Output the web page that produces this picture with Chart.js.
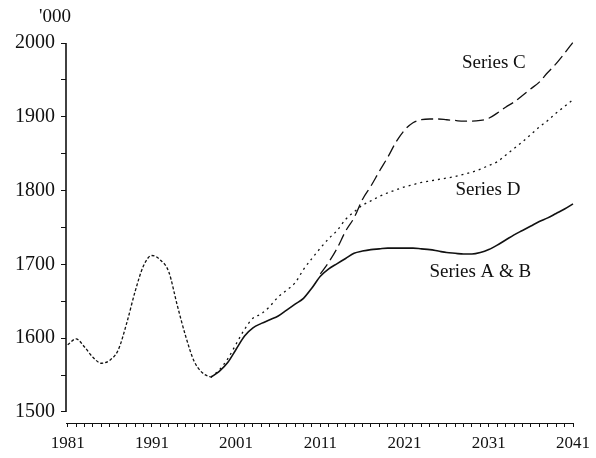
<!DOCTYPE html>
<html>
<head>
<meta charset="utf-8">
<script src="https://cdn.jsdelivr.net/npm/chart.js@4/dist/chart.umd.min.js"></script>
<style>
  html, body { margin: 0; padding: 0; background: #fff; }
  #wrap { width: 596px; height: 458px; }
</style>
</head>
<body>
<div id="wrap"><canvas id="myChart" width="596" height="458"></canvas></div>
<script>
const years = [
  1981, 1982, 1983, 1984, 1985, 1986, 1987, 1988, 1989, 1990,
  1991, 1992, 1993, 1994, 1995, 1996, 1997, 1998, 1999, 2000,
  2001, 2002, 2003, 2004, 2005, 2006, 2007, 2008, 2009, 2010,
  2011, 2012, 2013, 2014, 2015, 2016, 2017, 2018, 2019, 2020,
  2021, 2022, 2023, 2024, 2025, 2026, 2027, 2028, 2029, 2030,
  2031, 2032, 2033, 2034, 2035, 2036, 2037, 2038, 2039, 2040,
  2041,
];

// common history 1981-1998
const history = [
  1591, 1599, 1588, 1574, 1566, 1570, 1584, 1620, 1663, 1698,
  1712, 1706, 1690, 1645, 1603, 1569, 1553, 1547,
];

// projections start in 1998
const seriesAB = [
  1547, 1555, 1567, 1585, 1603, 1614, 1620, 1625, 1630, 1638,
  1646, 1654, 1668, 1684, 1694, 1701, 1708, 1715, 1718, 1720,
  1721, 1722, 1722, 1722, 1722, 1721, 1720, 1718, 1716, 1715,
  1714, 1714, 1716, 1720, 1726, 1733, 1740, 1746, 1752, 1758,
  1763, 1769, 1775, 1782,
];

const seriesD = [
  1547, 1557, 1572, 1592, 1612, 1627, 1633, 1643, 1656, 1665,
  1675, 1693, 1708, 1722, 1735, 1746, 1761, 1771, 1780, 1786,
  1792, 1797, 1801, 1805, 1808, 1811, 1813, 1815, 1817, 1819,
  1822, 1825, 1829, 1834, 1839, 1848, 1857, 1866, 1876, 1886,
  1895, 1905, 1914, 1923,
];

// series C branches off in 2011
const seriesC = [
  1687, 1703, 1722, 1745, 1763, 1788, 1806, 1826, 1845, 1866,
  1882, 1892, 1896, 1897, 1897, 1896, 1895, 1894, 1894, 1895,
  1898, 1905, 1913, 1920, 1929, 1938, 1947, 1960, 1972, 1986,
  2001,
];

const yTickValues = [1500, 1550, 1600, 1650, 1700, 1750, 1800, 1850, 1900, 1950, 2000];

const seriesLabels = [
  { text: "Series C", year: 2031.6, value: 1973 },
  { text: "Series D", year: 2030.9, value: 1801 },
  { text: "Series A & B", year: 2030, value: 1690 },
];

const toPoints = (values, startYear) => {
  const offset = years.indexOf(startYear);
  return values.map((v, i) => ({ x: years[offset + i], y: v }));
};

const ink = "#111";
const serif = "'Liberation Serif', 'DejaVu Serif', serif";

const extras = {
  id: "extras",
  afterDraw(chart) {
    const { ctx, scales } = chart;
    const x = scales.x;
    const y = scales.y;
    ctx.save();
    // y axis line only from 1500 to 2000
    ctx.strokeStyle = ink;
    ctx.lineWidth = 1.6;
    ctx.beginPath();
    ctx.moveTo(x.left, y.getPixelForValue(1500));
    ctx.lineTo(x.left, y.getPixelForValue(2000));
    ctx.stroke();

    ctx.fillStyle = ink;
    ctx.font = "19px " + serif;
    ctx.textAlign = "right";
    ctx.textBaseline = "middle";
    ctx.fillText("'000", x.left + 5, y.getPixelForValue(2000) - 26);

    ctx.textAlign = "center";
    seriesLabels.forEach((l) => {
      ctx.fillText(l.text, x.getPixelForValue(l.year), y.getPixelForValue(l.value));
    });
    ctx.restore();
  },
};

const ctx = document.querySelector("#myChart");
const lineStyle = {
  borderColor: ink,
  borderWidth: 1.3,
  pointRadius: 0,
  fill: false,
  cubicInterpolationMode: "monotone",
  clip: false,
};

const myChart = new Chart(ctx, {
  type: "line",
  data: {
    datasets: [
      { ...lineStyle, label: "History", data: toPoints(history, 1981), borderDash: [3, 2] },
      { ...lineStyle, label: "Series A & B", data: toPoints(seriesAB, 1998), borderWidth: 1.6 },
      { ...lineStyle, label: "Series D", data: toPoints(seriesD, 1998), borderDash: [2, 4] },
      { ...lineStyle, label: "Series C", data: toPoints(seriesC, 2011), borderDash: [12, 5] },
    ],
  },
  options: {
    responsive: false,
    animation: false,
    layout: { padding: { top: 43, right: 19, left: 0, bottom: 0 } },
    plugins: {
      legend: { display: false },
      tooltip: { enabled: false },
    },
    scales: {
      x: {
        type: "linear",
        min: 1980.8,
        max: 2041,
        afterBuildTicks: (scale) => {
          scale.ticks = years.map((v) => ({ value: v }));
        },
        afterFit: (scale) => {
          scale.height = 35;
        },
        ticks: {
          autoSkip: false,
          maxRotation: 0,
          padding: 6,
          color: ink,
          font: { family: serif, size: 17 },
          callback: (v) => ((v - 1981) % 10 === 0 ? String(v) : ""),
        },
        grid: {
          drawOnChartArea: false,
          drawTicks: true,
          tickLength: 4,
          color: ink,
        },
        border: { display: true, color: ink, width: 1 },
      },
      y: {
        min: 1485,
        max: 2000,
        afterBuildTicks: (scale) => {
          scale.ticks = yTickValues.map((v) => ({ value: v }));
        },
        afterFit: (scale) => {
          scale.width = 66;
        },
        ticks: {
          padding: 6,
          color: ink,
          font: { family: serif, size: 20 },
          callback: (v) => (v % 100 === 0 ? String(v) : ""),
        },
        grid: {
          drawOnChartArea: false,
          drawTicks: true,
          tickLength: 5,
          color: ink,
        },
        border: { display: false },
      },
    },
  },
  plugins: [extras],
});
</script>
</body>
</html>
